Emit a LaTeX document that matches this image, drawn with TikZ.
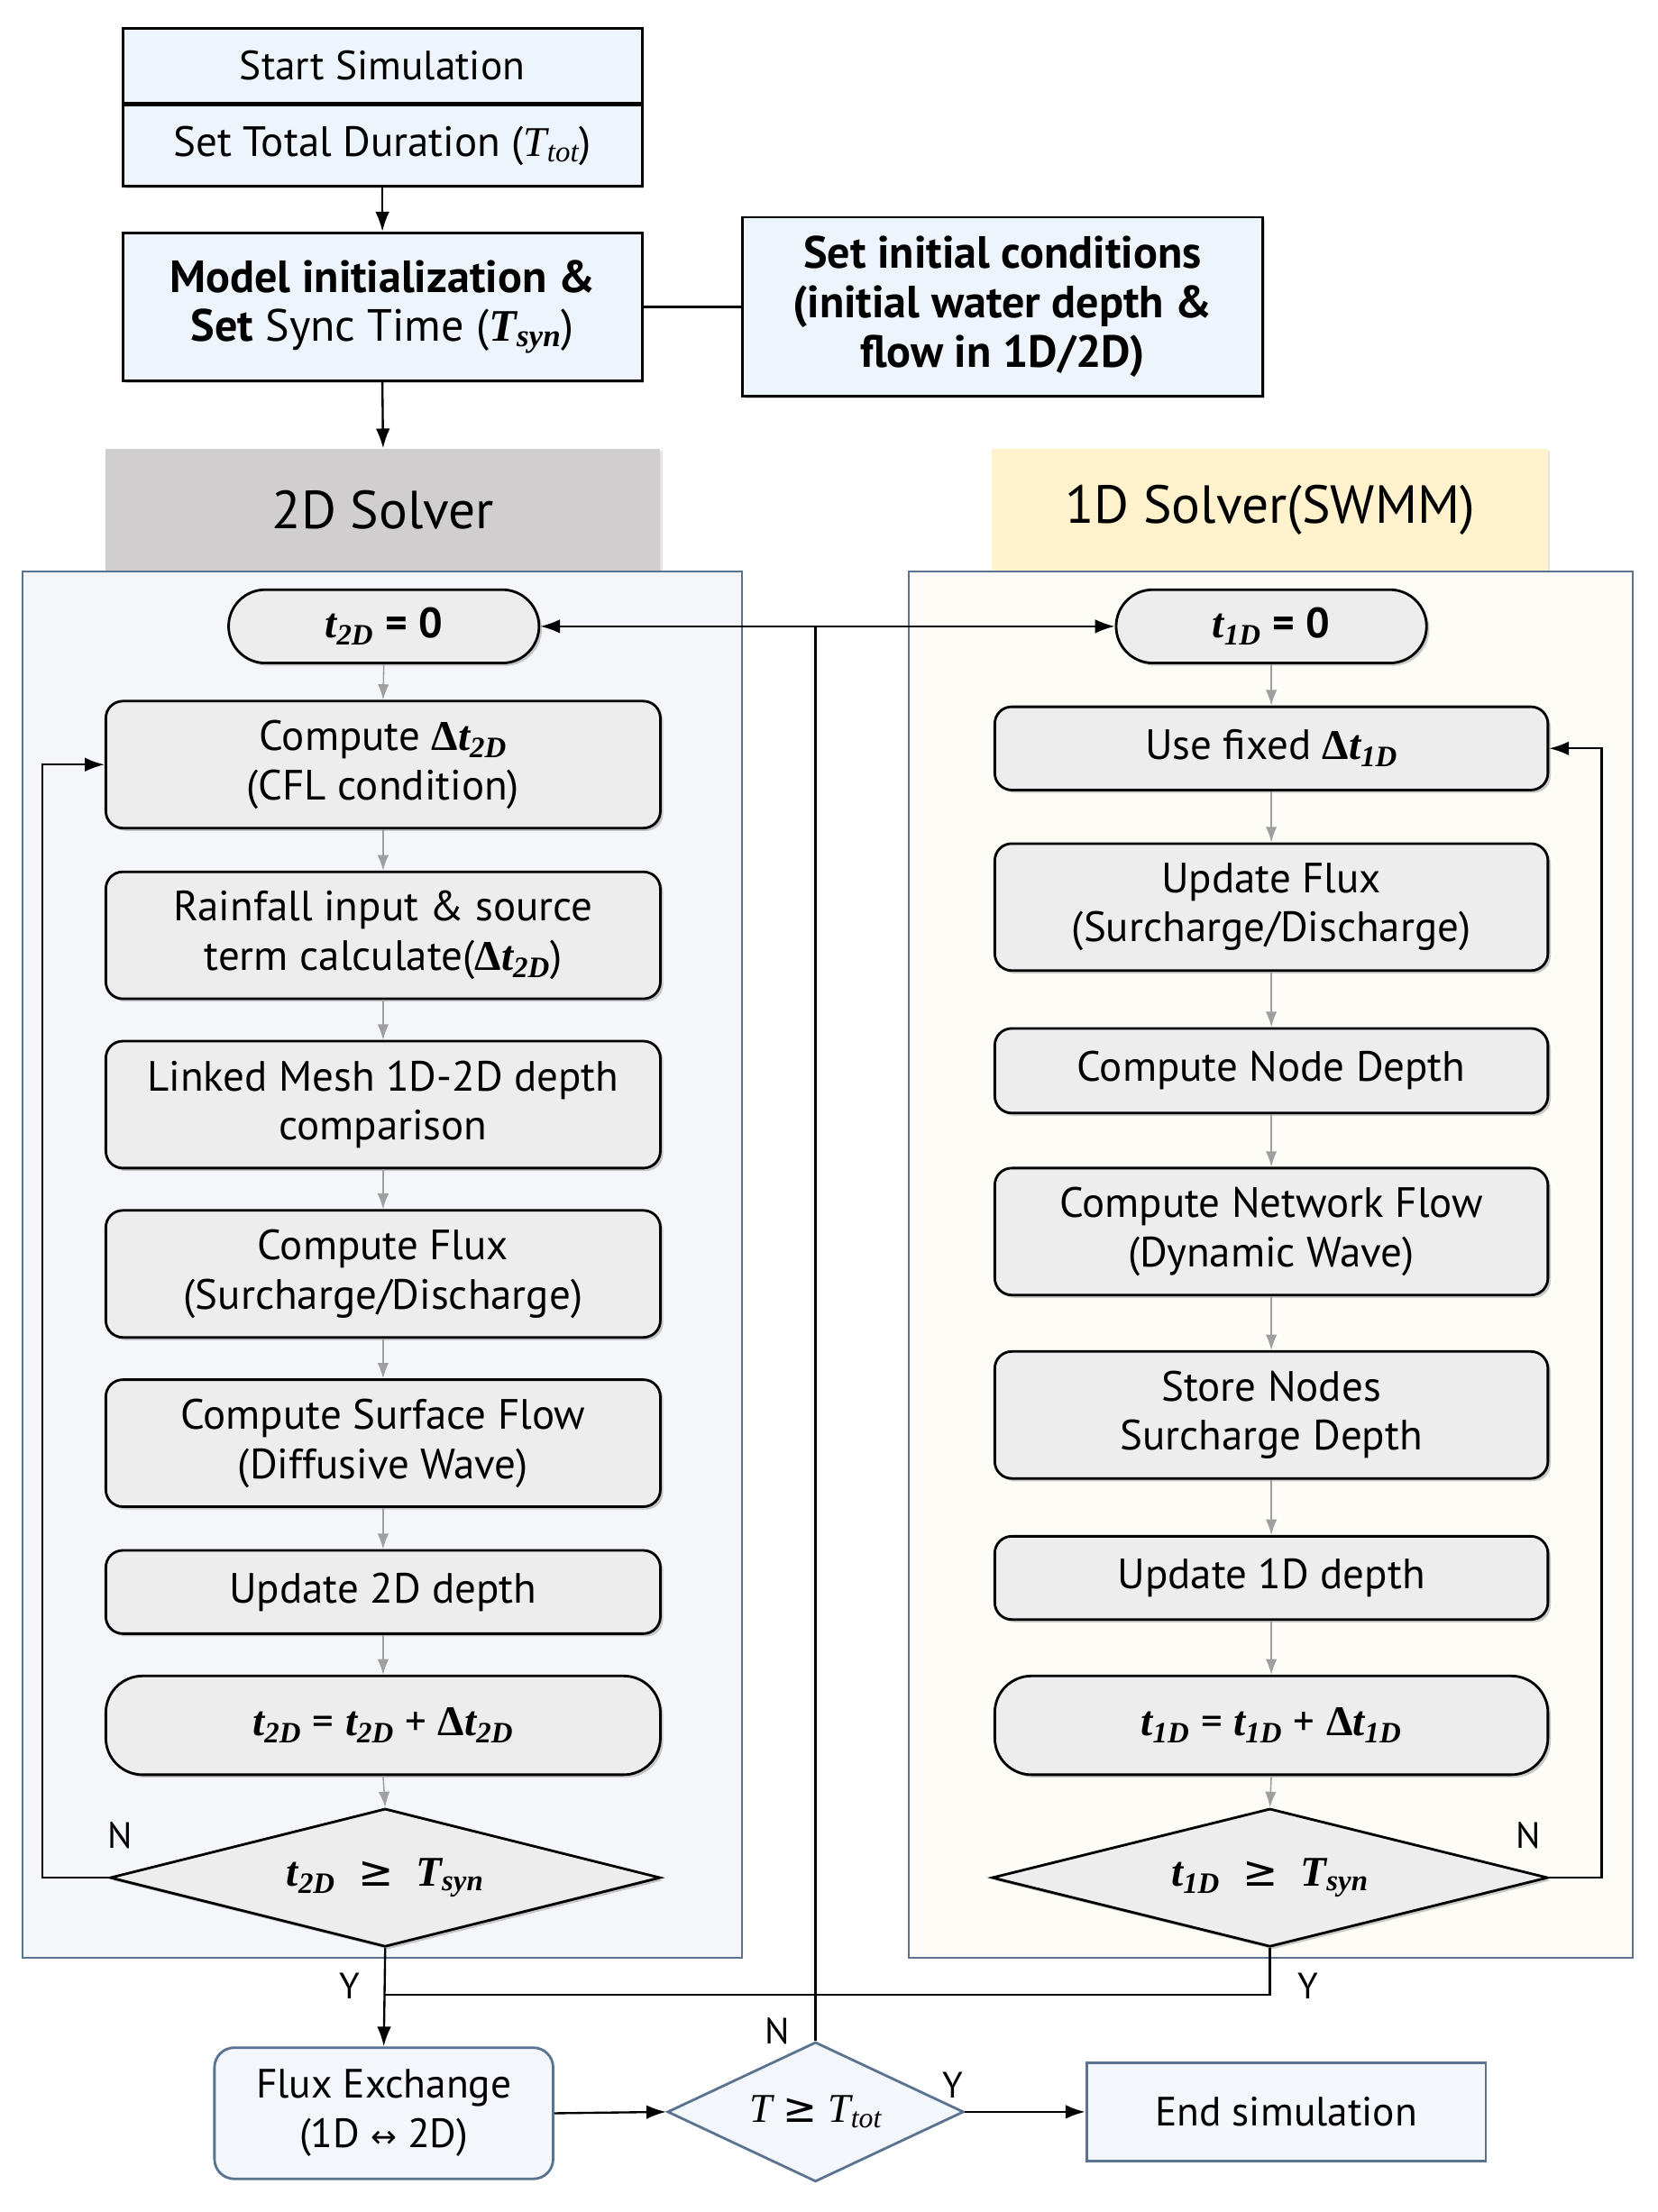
\documentclass[tikz,border=0pt]{standalone}
\usepackage{fontspec}
\setmainfont{PT Sans}
\setsansfont{PT Sans}
\newfontfamily\tms{Liberation Serif}
\newfontfamily\djv{DejaVu Sans}
\usetikzlibrary{arrows.meta,shapes.geometric,shadows}
\definecolor{boxfill}{HTML}{EDEDED}
\definecolor{topfill}{HTML}{EEF4FB}
\definecolor{panelA}{HTML}{F4F6F9}
\definecolor{panelB}{HTML}{FDFCF6}
\definecolor{panelline}{HTML}{5A7390}
\definecolor{hdrgray}{HTML}{D0CECE}
\definecolor{hdryellow}{HTML}{FFF2CC}
\definecolor{botfill}{HTML}{F3F6FA}
\newcommand{\fsz}{\fontsize{30}{35}\selectfont}
\newcommand{\fszb}{\fontsize{32}{35}\selectfont}
\newcommand{\fszs}{\fontsize{29}{35}\selectfont}
% bold italic serif variable with subscript
\newcommand{\bv}[2]{{\tms\bfseries\itshape #1}\textsubscript{\tms\bfseries\itshape #2}}
% italic serif variable with subscript
\newcommand{\iv}[2]{{\tms\itshape #1}\textsubscript{\tms\itshape #2}}
\newcommand{\bD}{{\tms\bfseries Δ}}
\newcommand{\geqs}{{\djv ≥}}
\begin{document}
\begin{tikzpicture}[x=1pt,y=-1pt,
  every node/.style={font=\fsz, inner sep=0pt, align=center},
  topbox/.style={draw=black, line width=1.8pt, fill=topfill, minimum width=368pt,
    drop shadow={shadow xshift=1.5pt, shadow yshift=-1.5pt, opacity=0.35}},
  stepbox/.style={draw=black, line width=1.8pt, fill=boxfill, rounded corners=12pt,
    minimum width=393pt, minimum height=90pt,
    drop shadow={shadow xshift=2pt, shadow yshift=-2pt, opacity=0.4}},
  pillbox/.style={stepbox, rounded corners=26pt, minimum width=220pt, minimum height=52pt},
  decbox/.style={diamond, draw=black, line width=1.8pt, fill=boxfill, shape aspect=4,
    drop shadow={shadow xshift=2pt, shadow yshift=-2pt, opacity=0.4}},
  hdr/.style={minimum width=393pt, minimum height=87pt, font=\fontsize{38}{46}\selectfont,
    drop shadow={shadow xshift=1.5pt, shadow yshift=-1.5pt, opacity=0.2}},
  garrow/.style={-{Latex[length=11pt,width=8pt]}, draw=gray!75, line width=1pt},
  barrow/.style={-{Latex[length=14pt,width=10pt]}, draw=black, line width=1.5pt},
  bline/.style={draw=black, line width=1.5pt},
  lbl/.style={font=\fontsize{26}{30}\selectfont},
  botbox/.style={draw=panelline, line width=1.8pt, fill=botfill, font=\fszs}
]
\useasboundingbox (0,0) rectangle (1175,1568);
\fill[white] (0,0) rectangle (1175,1568);

% top
\node[topbox, minimum height=53pt, font=\fontsize{29}{35}\selectfont] (start) at (271,46.5) {Start Simulation};
\node[topbox, minimum height=57pt, anchor=north] (dur) at (start.south) {Set Total Duration (\iv{T}{tot})};
\node[topbox, minimum height=105pt, font=\fszb] (init) at (271,217.5) {\textbf{Model initialization \&}\\\textbf{Set} Sync Time (\bv{T}{syn})};
\node[topbox, minimum width=369pt, minimum height=127pt, font=\fszb] (cond) at (710.5,217.5) {\textbf{Set initial conditions}\\\textbf{(initial water depth \&}\\\textbf{flow in 1D/2D)}};

% headers
\node[hdr, fill=hdrgray] (h2) at (271.5,361.5) {2D Solver};
\node[hdr, fill=hdryellow, minimum width=394pt] (h1) at (900,361.5) {1D Solver(SWMM)};

% panels
\draw[panelline, line width=1.5pt, fill=panelA] (16,405) rectangle (526,1388);
\draw[panelline, line width=1.5pt, fill=panelB] (644,405) rectangle (1157,1388);

% 2D column
\node[pillbox] (a0) at (272,444) {\bv{t}{2D} \textbf{=} \textbf{0}};
\node[stepbox] (a1) at (271.5,542) {Compute \bD\bv{t}{2D}\\(CFL condition)};
\node[stepbox] (a2) at (271.5,663) {Rainfall input \& source\\term calculate(\bD\bv{t}{2D})};
\node[stepbox] (a3) at (271.5,783) {Linked Mesh 1D-2D depth\\comparison};
\node[stepbox] (a4) at (271.5,903) {Compute Flux\\(Surcharge/Discharge)};
\node[stepbox] (a5) at (271.5,1023) {Compute Surface Flow\\(Diffusive Wave)};
\node[stepbox, minimum height=59pt] (a6) at (271.5,1128.5) {Update 2D depth};
\node[stepbox, minimum height=70pt, rounded corners=26pt] (a7) at (271.5,1223) {\bv{t}{2D} = \bv{t}{2D} + \bD\bv{t}{2D}};
\node[decbox, minimum width=390pt, minimum height=98pt] (a8) at (273,1331) {\bv{t}{2D}\ \ \geqs\ \ \bv{T}{syn}};

% 1D column
\node[pillbox] (b0) at (901,444) {\bv{t}{1D} \textbf{=} \textbf{0}};
\node[stepbox, minimum width=392pt, minimum height=59pt] (b1) at (901,530.5) {Use fixed \bD\bv{t}{1D}};
\node[stepbox, minimum width=392pt] (b2) at (901,643) {Update Flux\\(Surcharge/Discharge)};
\node[stepbox, minimum width=392pt, minimum height=60pt] (b3) at (901,759) {Compute Node Depth};
\node[stepbox, minimum width=392pt] (b4) at (901,873) {Compute Network Flow\\(Dynamic Wave)};
\node[stepbox, minimum width=392pt] (b5) at (901,1003) {Store Nodes\\Surcharge Depth};
\node[stepbox, minimum width=392pt, minimum height=59pt] (b6) at (901,1118.5) {Update 1D depth};
\node[stepbox, minimum width=392pt, minimum height=70pt, rounded corners=26pt] (b7) at (901,1223) {\bv{t}{1D} = \bv{t}{1D} + \bD\bv{t}{1D}};
\node[decbox, minimum width=394pt, minimum height=98pt] (b8) at (900,1331) {\bv{t}{1D}\ \ \geqs\ \ \bv{T}{syn}};

% bottom
\node[botbox, rounded corners=14pt, minimum width=240pt, minimum height=93pt] (flux) at (272,1498) {Flux Exchange\\(1D {\djv\fontsize{22}{26}\selectfont ↔} 2D)};
\node[botbox, diamond, shape aspect=2, minimum width=210pt, minimum height=99pt] (tt) at (578,1497) {{\tms\itshape T}\ \geqs\ \iv{T}{tot}};
\node[botbox, minimum width=283pt, minimum height=70pt] (endn) at (911.5,1497) {End simulation};

% connectors top
\draw[barrow] (dur.south) -- (init.north);
\draw[bline] (init.east) -- (cond.west);
\draw[barrow] (init.south) -- (h2.north);

% gray arrows
\foreach \p/\q in {a0/a1,a1/a2,a2/a3,a3/a4,a4/a5,a5/a6,a6/a7,a7/a8}
  \draw[garrow] (\p.south) -- (\q.north);
\foreach \p/\q in {b0/b1,b1/b2,b2/b3,b3/b4,b4/b5,b5/b6,b6/b7,b7/b8}
  \draw[garrow] (\p.south) -- (\q.north);

% loops
\draw[barrow] (a8.west) -- (30,1331) -- (30,542) -- (a1.west);
\node[lbl] (n2) at (85,1301) {N};
\draw[barrow] (b8.east) -- (1135,1331) -- (1135,530.5) -- (b1.east);
\node[lbl] (n1) at (1083,1301) {N};

% Y branches
\coordinate (yj) at (272,1414);
\draw[barrow] (a8.south) -- (flux.north);
\draw[bline] (b8.south) |- (yj);
\node[lbl] (y2) at (248,1408) {Y};
\node[lbl] (y1) at (927,1408) {Y};

% bottom connectors
\draw[barrow] (flux.east) -- (tt.west);
\draw[barrow] (tt.east) -- (endn.west);
\node[lbl] (nn) at (551,1440) {N};
\node[lbl] (yy) at (675,1478) {Y};

% N branch back to start of solvers
\coordinate (jn) at (578,444);
\draw[bline] (tt.north) -- (jn);
\draw[barrow] (jn) -- (a0.east);
\draw[barrow] (jn) -- (b0.west);
\end{tikzpicture}
\end{document}
